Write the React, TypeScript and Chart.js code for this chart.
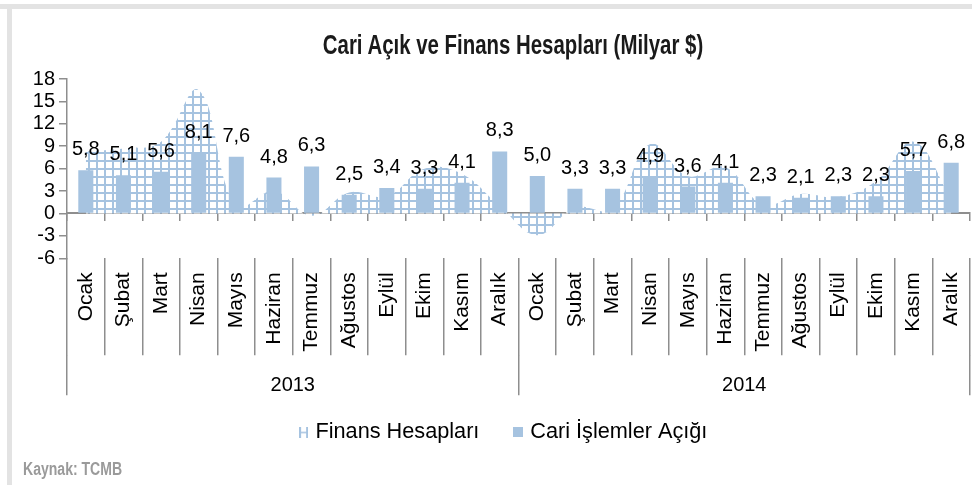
import React, { useEffect, useRef } from 'react';
import { Chart, registerables } from 'chart.js';

Chart.register(...registerables);

// ---------- data ----------
const monthNames = ['Ocak', 'Şubat', 'Mart', 'Nisan', 'Mayıs', 'Haziran', 'Temmuz', 'Ağustos', 'Eylül', 'Ekim', 'Kasım', 'Aralık'];
const yearLabels = ['2013', '2014'];
const categories = yearLabels.flatMap(() => monthNames);

const cariIslemlerAcigi = [5.8, 5.1, 5.6, 8.1, 7.6, 4.8, 6.3, 2.5, 3.4, 3.3, 4.1, 8.3, 5.0, 3.3, 3.3, 4.9, 3.6, 4.1, 2.3, 2.1, 2.3, 2.3, 5.7, 6.8];
const finansHesaplari = [8.3, 8.7, 9.6, 16.5, 1.0, 3.0, -0.3, 2.8, 2.3, 6.0, 5.3, 1.0, -2.9, 0.8, 0.6, 9.3, 5.0, 6.2, 1.2, 2.6, 2.2, 4.3, 9.6, 2.0];

const yMin = -6;
const yMax = 18;
const yStep = 3;

const seriesNames = ['Finans Hesapları', 'Cari İşlemler Açığı'];
const titleText = 'Cari Açık ve Finans Hesapları (Milyar $)';
const sourceText = 'Kaynak: TCMB';

// ---------- style ----------
const BLUE = '#a6c3e0';
const AXIS = '#8e8e8e';
const FONT = "'Liberation Sans', Arial, sans-serif";

function makePatternCanvas() {
  const c = document.createElement('canvas');
  c.width = 8;
  c.height = 8;
  const g = c.getContext('2d')!;
  g.fillStyle = '#ffffff';
  g.fillRect(0, 0, 8, 8);
  g.fillStyle = BLUE;
  g.fillRect(0, 0, 8, 2);
  g.fillRect(0, 0, 2, 8);
  return c;
}

function makeFinansMarker() {
  const c = document.createElement('canvas');
  c.width = 9;
  c.height = 11;
  const g = c.getContext('2d')!;
  g.fillStyle = BLUE;
  g.fillRect(0, 0, 2, 11);
  g.fillRect(7, 0, 2, 11);
  g.fillRect(0, 5, 9, 1.5);
  return c;
}

function makeBarMarker() {
  const c = document.createElement('canvas');
  c.width = 10;
  c.height = 10;
  const g = c.getContext('2d')!;
  g.fillStyle = BLUE;
  g.fillRect(0, 0, 10, 10);
  return c;
}

const barLabelsPlugin = {
  id: 'barLabels',
  afterDatasetsDraw(chart: any) {
    const meta = chart.getDatasetMeta(1);
    const ctx = chart.ctx;
    ctx.save();
    ctx.font = `20px ${FONT}`;
    ctx.fillStyle = '#000';
    ctx.textAlign = 'center';
    ctx.textBaseline = 'alphabetic';
    meta.data.forEach((el: any, i: number) => {
      const v = chart.data.datasets[1].data[i] as number;
      ctx.fillText(v.toFixed(1).replace('.', ','), el.x, el.y - 15);
    });
    ctx.restore();
  },
};

export default function App() {
  const ref = useRef<HTMLCanvasElement>(null);

  useEffect(() => {
    const canvas = ref.current!;
    const ctx = canvas.getContext('2d')!;
    const pattern = ctx.createPattern(makePatternCanvas(), 'repeat');
    const finansMarker = makeFinansMarker();
    const barMarker = makeBarMarker();

    const chart = new Chart(canvas, {
      type: 'bar',
      data: {
        labels: categories,
        datasets: [
          {
            type: 'line',
            label: seriesNames[0],
            data: finansHesaplari,
            xAxisID: 'x',
            yAxisID: 'y',
            fill: 'origin',
            backgroundColor: pattern as any,
            borderWidth: 0,
            borderColor: 'rgba(0,0,0,0)',
            pointRadius: 0,
            tension: 0.4,
            order: 2,
          } as any,
          {
            type: 'bar',
            label: seriesNames[1],
            data: cariIslemlerAcigi,
            xAxisID: 'x',
            yAxisID: 'y',
            backgroundColor: BLUE,
            barPercentage: 0.4,
            categoryPercentage: 1,
            order: 1,
          },
        ],
      },
      options: {
        responsive: false,
        animation: false,
        devicePixelRatio: 1,
        font: { family: FONT },
        layout: { padding: { top: 79, left: 40, right: 2, bottom: 32 } },
        plugins: {
          title: { display: false },
          tooltip: { enabled: false },
          legend: {
            position: 'bottom',
            labels: {
              usePointStyle: true,
              pointStyleWidth: 2,
              boxWidth: 2,
              boxHeight: 10,
              padding: 38,
              color: '#000',
              font: { size: 21.7, family: FONT },
              generateLabels: () => [
                { text: seriesNames[0], pointStyle: finansMarker, datasetIndex: 0, hidden: false, lineWidth: 0, fontColor: '#000' } as any,
                { text: seriesNames[1], pointStyle: barMarker, datasetIndex: 1, hidden: false, lineWidth: 0, fontColor: '#000' } as any,
              ],
            },
          },
        },
        scales: {
          x: {
            type: 'category',
            axis: 'x',
            position: 'bottom',
            weight: 0,
            offset: true,
            grid: { offset: true, drawOnChartArea: false, drawTicks: true, tickLength: 97, color: AXIS, lineWidth: 1.5 },
            border: { display: false },
            ticks: { autoSkip: false, minRotation: 90, maxRotation: 90, padding: -83, color: '#000', font: { size: 21, family: FONT } },
            afterFit: (s: any) => { s.height = 97; },
          },
          x2: {
            type: 'category',
            axis: 'x',
            labels: yearLabels,
            position: 'bottom',
            weight: 1,
            offset: true,
            grid: { offset: true, drawOnChartArea: false, drawTicks: true, tickLength: 40, color: AXIS, lineWidth: 1.5 },
            border: { display: false },
            ticks: { mirror: true, padding: -42, color: '#000', font: { size: 20, family: FONT } },
            afterFit: (s: any) => { s.height = 28; },
          },
          xZero: {
            type: 'category',
            axis: 'x',
            position: { y: 0 },
            offset: true,
            grid: { offset: true, drawOnChartArea: false, drawTicks: true, tickLength: 7, color: AXIS, lineWidth: 1.5 },
            border: { display: true, color: AXIS, width: 2 },
            ticks: { display: false },
          },
          y: {
            type: 'linear',
            position: 'left',
            min: yMin,
            max: yMax,
            ticks: { stepSize: yStep, autoSkip: false, mirror: true, crossAlign: 'far', padding: -34.2, color: '#000', font: { size: 20, family: FONT } },
            grid: { drawOnChartArea: false, drawTicks: true, tickLength: 8, color: AXIS, lineWidth: 1.5 },
            border: { display: true, color: AXIS, width: 1.5 },
            afterFit: (s: any) => { s.width = 27; },
          },
        } as any,
      },
      plugins: [barLabelsPlugin],
    });
    return () => chart.destroy();
  }, []);

  return (
    <div style={{ position: 'fixed', left: 0, top: 0, width: 972, height: 485, background: '#fff', overflow: 'hidden', fontFamily: FONT }}>
      <div style={{ position: 'absolute', left: 0, top: 4, width: 972, height: 5, background: '#e3e3e3' }} />
      <div style={{ position: 'absolute', left: 7, top: 4, width: 5, height: 481, background: '#e3e3e3' }} />
      <canvas ref={ref} width={972} height={485} style={{ position: 'absolute', left: 0, top: 0 }} />
      <div
        style={{
          position: 'absolute', left: 513, top: 45, transform: 'translate(-50%, -50%) scaleX(0.756)',
          whiteSpace: 'nowrap', fontWeight: 'bold', fontSize: 27, lineHeight: 1, color: '#1a1a1a',
        }}
      >
        {titleText}
      </div>
      <div
        style={{
          position: 'absolute', left: 23, top: 469, transform: 'translateY(-50%) scaleX(0.78)', transformOrigin: 'left center',
          whiteSpace: 'nowrap', fontWeight: 'bold', fontSize: 18, lineHeight: 1, color: '#9a9a9a',
        }}
      >
        {sourceText}
      </div>
    </div>
  );
}
